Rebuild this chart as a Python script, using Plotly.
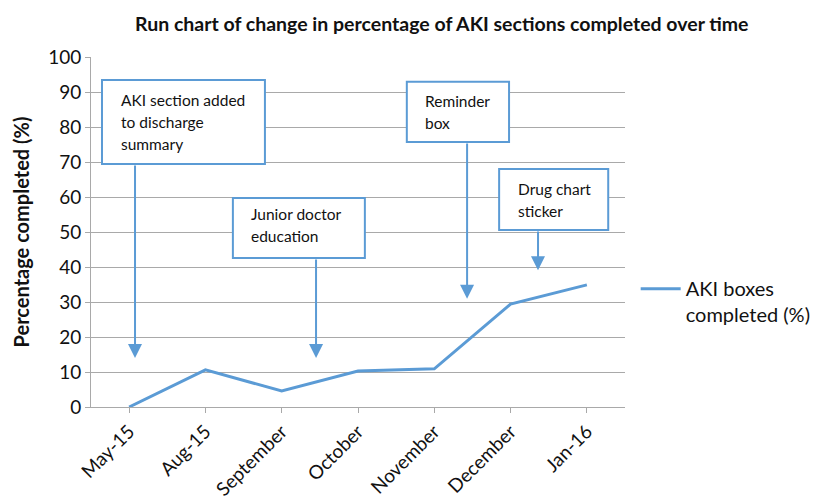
import plotly.graph_objects as go

categories = ["May-15", "Aug-15", "September", "October", "November", "December", "Jan-16"]
values = [0.0, 10.6, 4.6, 10.3, 10.9, 29.4, 34.9]
series_name = "AKI boxes<br>completed (%)"
y_ticks = list(range(0, 101, 10))

BLUE = "#5b9bd5"
GRID = "#a9a9a9"
TXT = "#111111"
FONT = "Lato"

# Annotation layout (box corners, text lines, arrow tail/tip) in axis coordinates
boxes = [
    dict(x0=-0.356, x1=1.78, y0=69.4, y1=93.4,
         tx=-0.133, lines=[("AKI section added", 87.7), ("to discharge", 81.4), ("summary", 75.1)],
         ax=0.077, tip=14.0),
    dict(x0=1.36, x1=3.09, y0=42.6, y1=59.7,
         tx=1.57, lines=[("Junior doctor", 55.1), ("education", 48.9)],
         ax=2.45, tip=14.0),
    dict(x0=3.64, x1=4.98, y0=75.7, y1=92.9,
         tx=3.85, lines=[("Reminder", 87.4), ("box", 81.1)],
         ax=4.43, tip=30.9),
    dict(x0=4.85, x1=6.28, y0=50.6, y1=68.0,
         tx=5.07, lines=[("Drug chart", 62.3), ("sticker", 56.0)],
         ax=5.36, tip=39.1),
]

fig = go.Figure()
fig.add_trace(go.Scatter(
    x=list(range(len(categories))), y=values, mode="lines", name=series_name,
    line=dict(color=BLUE, width=3), showlegend=True,
))

shapes = []
annotations = []
for b in boxes:
    shapes.append(dict(type="rect", xref="x", yref="y", x0=b["x0"], x1=b["x1"],
                       y0=b["y0"], y1=b["y1"], line=dict(color=BLUE, width=2),
                       fillcolor="white", layer="above"))
    for txt, yy in b["lines"]:
        annotations.append(dict(x=b["tx"], y=yy, xref="x", yref="y", text=txt,
                                showarrow=False, xanchor="left", yanchor="middle",
                                font=dict(family=FONT, size=15.5, color=TXT)))
    annotations.append(dict(x=b["ax"], y=b["tip"], xref="x", yref="y",
                            ax=b["ax"], ay=b["y0"], axref="x", ayref="y",
                            text="", showarrow=True, arrowhead=2, arrowsize=1.4,
                            arrowwidth=2, arrowcolor=BLUE, standoff=0, startstandoff=0))

# page body has an 8px margin; figure is sized to end at the window edge
fig.update_layout(
    width=820, height=496,
    margin=dict(l=83, r=203, t=49, b=97),
    paper_bgcolor="white", plot_bgcolor="white",
    font=dict(family=FONT, color=TXT),
    title=dict(text="<b>Run chart of change in percentage of AKI sections completed over time</b>",
               x=0.529, xanchor="center", y=0.968, yanchor="middle",
               font=dict(family=FONT, size=19.5, color=TXT)),
    xaxis=dict(
        tickmode="array", tickvals=list(range(len(categories))), ticktext=categories,
        range=[-0.5, len(categories) - 0.5], showgrid=False,
        showline=True, linecolor=GRID, linewidth=1,
        ticks="outside", ticklen=5, tickcolor=GRID,
        tickangle=-45, tickfont=dict(family=FONT, size=19, color=TXT),
        zeroline=False, automargin=False,
    ),
    yaxis=dict(
        range=[0, 100], tickvals=y_ticks, showgrid=True, gridcolor=GRID, gridwidth=1,
        showline=True, linecolor=GRID, linewidth=1,
        ticks="outside", ticklen=5, tickcolor=GRID,
        tickfont=dict(family=FONT, size=19, color=TXT),
        title=dict(text="<b>Percentage completed (%)</b>", standoff=13,
                   font=dict(family=FONT, size=20, color=TXT)),
        zeroline=False, automargin=False,
    ),
    legend=dict(x=1.02, xanchor="left", y=0.301, yanchor="middle",
                valign="top", font=dict(family=FONT, size=20, color=TXT),
                itemwidth=40),
    shapes=shapes,
    annotations=annotations,
)

fig.write_html("out.html")
